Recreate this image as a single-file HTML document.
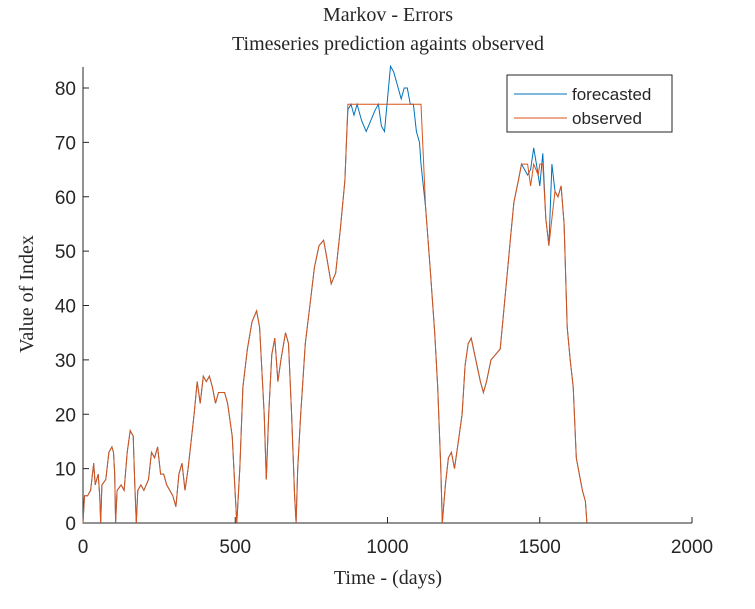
<!DOCTYPE html>
<html><head><meta charset="utf-8"><style>
body{margin:0;background:#fff}
svg text{fill:#262626}
</style></head><body>
<svg id="s" width="755" height="604" xmlns="http://www.w3.org/2000/svg">
<text x="388" y="21" font-family="Liberation Serif,serif" font-size="20" text-anchor="middle">Markov - Errors</text>
<text x="388" y="50" font-family="Liberation Serif,serif" font-size="20" text-anchor="middle">Timeseries prediction againts observed</text>
<text x="388" y="584" font-family="Liberation Serif,serif" font-size="20" text-anchor="middle">Time - (days)</text>
<text transform="translate(33,294) rotate(-90)" font-family="Liberation Serif,serif" font-size="20" text-anchor="middle">Value of Index</text>
<g id="ax" stroke="#262626" stroke-width="1" fill="none"></g>
<g id="lab" font-family="Liberation Sans,sans-serif" font-size="19"></g>
<polyline id="f" fill="none" stroke="#0072BD" stroke-width="1"/>
<polyline id="o" fill="none" stroke="#D95319" stroke-width="1"/>
<rect x="507" y="75" width="165" height="57" fill="#fff" stroke="#262626"/>
<line x1="514" y1="94" x2="567" y2="94" stroke="#0072BD"/>
<line x1="514" y1="118" x2="567" y2="118" stroke="#D95319"/>
<text x="572" y="100" font-family="Liberation Sans,sans-serif" font-size="17">forecasted</text>
<text x="572" y="124" font-family="Liberation Sans,sans-serif" font-size="17">observed</text>
</svg>
<script>
var X=function(t){return 83+t*0.3045},Y=function(v){return 523-v*5.4375};
var ax=document.getElementById('ax'),lab=document.getElementById('lab'),h='',l='';
h+='<path d="M83 67V523H692"/>';
for(var t=0;t<=2000;t+=500){var x=X(t);h+='<path d="M'+x+' 523V517"/>';l+='<text x="'+x+'" y="553" text-anchor="middle">'+t+'</text>';}
for(var v=0;v<=80;v+=10){var y=Y(v);h+='<path d="M83 '+y+'H89"/>';l+='<text x="76" y="'+(y+7)+'" text-anchor="end">'+v+'</text>';}
ax.innerHTML=h;lab.innerHTML=l;
var o=[0,0,5,5,15,5,25,6,35,11,40,7,50,9,55,5,58,0,62,7,75,8,85,13,95,14,100,13,104,9,107,0,112,6,125,7,135,6,145,13,155,17,165,16,170,7,175,0,180,6,190,7,200,6,215,8,225,13,235,12,245,14,255,9,265,9,275,7,285,6,295,5,305,3,315,9,325,11,335,6,345,10,355,15,365,20,375,26,385,22,395,27,405,26,415,27,425,25,435,22,445,24,465,24,475,22,490,16,500,5,505,0,515,10,525,25,540,32,555,37,570,39,580,36,595,20,602,8,610,20,620,31,630,34,640,26,650,30,665,35,675,33,685,20,695,5,700,0,705,10,715,20,730,33,745,40,760,47,775,51,790,52,800,49,815,44,830,46,845,54,860,63,865,70,870,77,1110,77,1125,58,1140,47,1155,35,1165,25,1175,10,1180,0,1190,7,1200,12,1210,13,1220,10,1235,16,1245,20,1255,29,1265,33,1275,34,1290,30,1305,26,1315,24,1325,26,1340,30,1355,31,1370,32,1390,44,1405,53,1415,59,1430,63,1440,66,1460,66,1470,62,1480,66,1495,64,1500,66,1510,66,1520,56,1530,51,1540,56,1550,61,1560,60,1570,62,1580,55,1590,36,1600,30,1610,25,1620,12,1630,9,1640,6,1650,4,1655,0];
var fr=[870,76,880,77,890,75,900,77,915,74,930,72,945,74,960,76,970,77,980,73,990,72,1000,78,1010,84,1020,83,1035,80,1045,78,1055,80,1065,80,1075,77,1085,77,1095,72,1105,70,1110,66];
var f=[];for(var i=0;i<o.length;i+=2){var t=o[i];if(t>=870&&t<=1110)continue;var v=o[i+1];if(t==1460)v=64;if(t==1470)v=65;if(t==1480)v=69;if(t==1500)v=62;if(t==1510)v=68;if(t==1540)v=66;if(t==1545)v=69;f.push(t,v);if(t==865)f=f.concat(fr);}
function P(a){var s=[];for(var i=0;i<a.length;i+=2)s.push(X(a[i]).toFixed(1)+','+Y(a[i+1]).toFixed(1));return s.join(' ');}
document.getElementById('f').setAttribute('points',P(f));
document.getElementById('o').setAttribute('points',P(o));
</script>
</body></html>
